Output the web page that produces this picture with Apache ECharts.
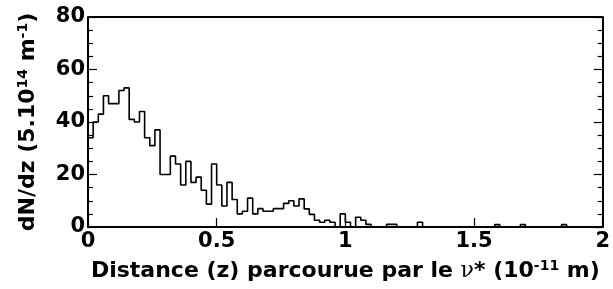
<!DOCTYPE html>
<html>
<head>
<meta charset="utf-8">
<script src="https://cdn.jsdelivr.net/npm/echarts@6/dist/echarts.min.js"></script>
<style>
  html, body { margin: 0; padding: 0; background: #fff; }
  #chart { width: 613px; height: 289px; }
</style>
</head>
<body>
<div id="chart"></div>
<script>
// histogramme : 100 bins de 0.02 entre 0 et 2
const binWidth = 0.02;
const counts = [
  34, 40, 43, 50, 47, 47, 52, 53, 41, 40,
  44, 34, 31, 37, 20, 20, 27, 24, 16, 25,
  17, 19, 14, 8.7, 24, 16, 8, 17, 10.5, 5,
  6, 11, 5, 7, 6, 6, 7, 7, 9, 10,
  8, 10.7, 6.9, 4.8, 2.6, 1.8, 2.6, 1.8, 0, 5,
  1.8, 0, 3.7, 2.6, 1, 0, 0, 0, 1, 1,
  0, 0, 0, 0, 1.8, 0, 0, 0, 0, 0,
  0, 0, 0, 0, 0, 0, 0, 0, 0, 0.9,
  0, 0, 0, 0, 0.9, 0, 0, 0, 0, 0,
  0, 0, 0.9, 0, 0, 0, 0, 0, 0, 0
];
const xTicks = [0, 0.5, 1, 1.5, 2];
const yTicks = [0, 20, 40, 60, 80];

// points aux bords gauches des bins + bord final
const stepData = counts.map((c, i) => [+(i * binWidth).toFixed(2), c]);
stepData.push([2, counts[counts.length - 1]]);

const font = "DejaVu Sans";
const chart = echarts.init(document.getElementById("chart"));

const tickStyle = { color: "#000", width: 1.2 };

const option = {
  backgroundColor: "#fff",
  animation: false,
  grid: { left: 88, right: 6, top: 17, bottom: 62 },
  xAxis: {
    type: "value",
    min: xTicks[0], max: xTicks[xTicks.length - 1], interval: 0.5,
    axisLine: { lineStyle: { color: "#000", width: 2 } },
    axisTick: { inside: true, length: 9, lineStyle: tickStyle },
    axisLabel: {
      color: "#000", fontFamily: font, fontWeight: "bold", fontSize: 21, margin: 4,
      formatter: v => String(v)
    },
    splitLine: { show: false },
    name: "{b|Distance (z) parcourue par le }{n|\u03bd}{b|* (10}{s|-11}{b| m)}",
    nameLocation: "middle",
    nameGap: 32,
    nameTextStyle: {
      rich: {
        b: { fontFamily: font, fontWeight: "bold", fontSize: 22, color: "#000" },
        n: { fontFamily: "DejaVu Serif", fontSize: 22, color: "#000" },
        s: { fontFamily: font, fontWeight: "bold", fontSize: 14, color: "#000", padding: [0, 0, 10, 0] }
      }
    }
  },
  yAxis: [{
    type: "value",
    min: yTicks[0], max: yTicks[yTicks.length - 1], interval: 20,
    axisLine: { show: true, lineStyle: { color: "#000", width: 2 } },
    axisTick: { inside: true, length: 9, lineStyle: tickStyle },
    minorTick: { show: true, splitNumber: 4, length: 5, lineStyle: tickStyle },
    axisLabel: { color: "#000", fontFamily: font, fontWeight: "bold", fontSize: 21, margin: 3 },
    splitLine: { show: false },
    name: "{b|dN/dz (5.10}{s|14}{b| m}{s|-1}{b|)}",
    nameLocation: "middle",
    nameRotate: 90,
    nameGap: 48,
    nameTextStyle: {
      rich: {
        b: { fontFamily: font, fontWeight: "bold", fontSize: 22, color: "#000" },
        s: { fontFamily: font, fontWeight: "bold", fontSize: 14, color: "#000", padding: [0, 0, 10, 0] }
      }
    }
  }, {
    type: "value", position: "right",
    min: yTicks[0], max: yTicks[yTicks.length - 1], interval: 20,
    axisLine: { show: true, lineStyle: { color: "#000", width: 2 } },
    axisTick: { inside: true, length: 9, lineStyle: tickStyle },
    minorTick: { show: true, splitNumber: 4, length: 5, lineStyle: tickStyle },
    axisLabel: { show: false },
    splitLine: { show: false }
  }],
  series: [{
    type: "line",
    step: "end",
    data: stepData,
    symbol: "none",
    lineStyle: { color: "#000", width: 1.6 },
    clip: true
  }, {
    // bord supérieur du cadre
    type: "line",
    data: [[0, 80], [2, 80]],
    symbol: "none",
    lineStyle: { color: "#000", width: 2 },
    silent: true
  }]
};
chart.setOption(option);
</script>
</body>
</html>
